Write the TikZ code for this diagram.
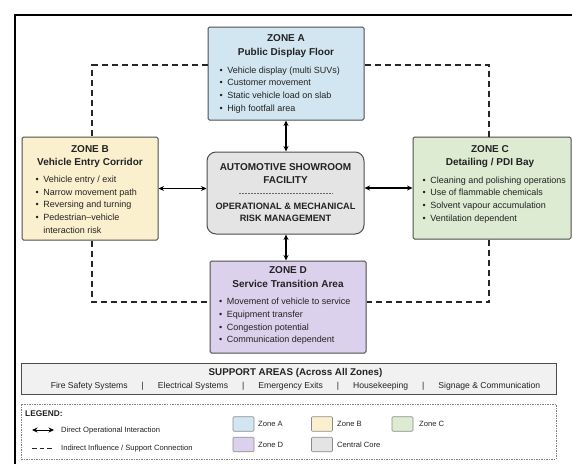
\documentclass[tikz,border=0pt]{standalone}
\usepackage{fontspec}
\setmainfont{Liberation Sans}
\usetikzlibrary{arrows.meta}
\definecolor{zA}{HTML}{D2E6F1}
\definecolor{zB}{HTML}{FBF0CE}
\definecolor{zC}{HTML}{DDEBD2}
\definecolor{zD}{HTML}{DCD1EC}
\definecolor{zCore}{HTML}{E4E4E4}
\definecolor{supp}{HTML}{F1F1F1}
\definecolor{bord}{HTML}{4D4D4D}
\definecolor{ink}{HTML}{222222}
\newcommand{\zbul}{\textbullet\hspace{4.5pt}}
\newcommand{\zind}{\hphantom{\textbullet\hspace{4.5pt}}}
\tikzset{
  zonebox/.style={draw=bord, line width=1pt, rounded corners=1.5pt, inner sep=0pt},
  ttl/.style={font=\fontsize{10}{13.7}\selectfont\bfseries, text=ink, align=center, inner sep=0pt, anchor=base},
  blist/.style={font=\fontsize{9}{12.7}\selectfont, text=ink, align=left, inner sep=0pt, anchor=base west},
  link/.style={{Stealth[length=5.5pt,width=5pt]}-{Stealth[length=5.5pt,width=5pt]}, line width=1.1pt, draw=black},
  dashline/.style={dash pattern=on 6pt off 4pt, line width=1.2pt, draw=black!85},
  swatch/.style={draw=black!45, line width=0.6pt, rounded corners=1pt, minimum width=21pt, minimum height=14.5pt, inner sep=0pt},
  legtxt/.style={font=\fontsize{7.6}{9}\selectfont, text=ink, inner sep=0pt, anchor=base west},
}
\begin{document}
\begin{tikzpicture}[x=1pt,y=-1pt]
\useasboundingbox (0,0) rectangle (572,464);
\fill[white] (0,0) rectangle (572,464);
% outer frame (partially visible)
\draw[line width=2pt, black] (15,464) -- (15,15) -- (572,15);

% boxes
\node[zonebox, fill=zA, minimum width=156pt, minimum height=93pt] (A) at (286,73.5) {};
\node[zonebox, fill=zB, minimum width=136pt, minimum height=103pt] (B) at (90,188.5) {};
\node[zonebox, fill=zC, minimum width=158pt, minimum height=102pt] (C) at (492,188) {};
\node[zonebox, fill=zD, minimum width=156pt, minimum height=92pt] (D) at (288,307) {};
\node[draw=bord, line width=1pt, rounded corners=9pt, fill=zCore, minimum width=157pt, minimum height=82pt, inner sep=0pt] (core) at (285.5,193) {};

% zone texts (anchor = baseline of the last line)
\node[ttl] (Atitle) at (286,55.3) {ZONE A\\Public Display Floor};
\node[blist] (Alist) at (219.4,111.1) {\zbul Vehicle display (multi SUVs)\\\zbul Customer movement\\\zbul Static vehicle load on slab\\\zbul High footfall area};

\node[ttl] (Btitle) at (90,165.9) {ZONE B\\Vehicle Entry Corridor};
\node[blist] (Blist) at (35.5,233.2) {\zbul Vehicle entry / exit\\\zbul Narrow movement path\\\zbul Reversing and turning\\\zbul Pedestrian–vehicle\\\zind interaction risk};

\node[ttl] (Ctitle) at (490,165.9) {ZONE C\\Detailing / PDI Bay};
\node[blist] (Clist) at (422.5,221.1) {\zbul Cleaning and polishing operations\\\zbul Use of flammable chemicals\\\zbul Solvent vapour accumulation\\\zbul Ventilation dependent};

\node[ttl] (Dtitle) at (288,287.5) {ZONE D\\Service Transition Area};
\node[blist] (Dlist) at (219,342.9) {\zbul Movement of vehicle to service\\\zbul Equipment transfer\\\zbul Congestion potential\\\zbul Communication dependent};

% core texts
\node[ttl, font=\fontsize{10}{13.3}\selectfont\bfseries] (coreT1) at (285.5,183.6) {AUTOMOTIVE SHOWROOM\\FACILITY};
\draw[black!60, dash pattern=on 2pt off 1pt, line width=0.5pt] (239,193) -- (333,193);
\node[ttl, font=\fontsize{9.2}{12.6}\selectfont\bfseries] (coreT2) at (285.5,221.6) {OPERATIONAL \& MECHANICAL\\RISK MANAGEMENT};

% direct interactions
\draw[link] (A.south) -- (core.north -| A.south);
\draw[link] (core.south -| A.south) -- (D.north -| A.south);
\draw[link] (B.east) -- (core.west |- B.east);
\draw[link] (core.east |- C.west) -- (C.west);

% indirect connections
\coordinate (tl) at (92,65);
\coordinate (tr) at (489,65);
\coordinate (bl) at (92,302);
\coordinate (br) at (489,302);
\draw[dashline] (A.west |- tl) -- (tl) -- (tl |- B.north);
\draw[dashline] (A.east |- tr) -- (tr) -- (tr |- C.north);
\draw[dashline] (bl |- B.south) -- (bl) -- (D.west |- bl);
\draw[dashline] (br |- C.south) -- (br) -- (D.east |- br);

% support areas
\node[draw=bord, line width=1pt, fill=supp, minimum width=535pt, minimum height=31pt, inner sep=0pt] (support) at (288.5,378.5) {};
\node[font=\fontsize{9.8}{11}\selectfont\bfseries, text=ink, inner sep=0pt, anchor=base] (suppT) at (295.5,375.5) {SUPPORT AREAS (Across All Zones)};
\node[font=\fontsize{8.6}{10}\selectfont, text=ink, inner sep=0pt, anchor=base] (suppI) at (295.5,388.5) {Fire Safety Systems\hspace{14pt}|\hspace{14pt}Electrical Systems\hspace{14pt}|\hspace{14pt}Emergency Exits\hspace{14pt}|\hspace{14pt}Housekeeping\hspace{14pt}|\hspace{14pt}Signage \& Communication};

% legend
\node[draw=black!50, dash pattern=on 1.5pt off 1pt, line width=0.6pt, minimum width=535pt, minimum height=55pt, inner sep=0pt] (legend) at (288.5,431.5) {};
\node[font=\fontsize{8.3}{10}\selectfont\bfseries, text=ink, inner sep=0pt, anchor=base west] (legT) at (25,416) {LEGEND:};
\coordinate (la1) at (32,430);
\coordinate (la2) at (54,430);
\draw[link, line width=0.9pt] (la1) -- (la2);
\node[legtxt] (legDirect) at (61,432.7) {Direct Operational Interaction};
\coordinate (lb1) at (32,448);
\coordinate (lb2) at (54,448);
\draw[dashline, dash pattern=on 4.5pt off 3pt, line width=1pt] (lb1) -- (lb2);
\node[legtxt] (legIndirect) at (61,450.7) {Indirect Influence / Support Connection};

\node[swatch, fill=zA] (swA) at (243.5,424) {};
\node[legtxt] (labA) at (258,426.8) {Zone A};
\node[swatch, fill=zB] (swB) at (322,424) {};
\node[legtxt] (labB) at (337,426.8) {Zone B};
\node[swatch, fill=zC] (swC) at (402.5,424) {};
\node[legtxt] (labC) at (419,426.8) {Zone C};
\node[swatch, fill=zD] (swD) at (243.5,444.5) {};
\node[legtxt] (labD) at (258,447.5) {Zone D};
\node[swatch, fill=zCore] (swCore) at (322,444.5) {};
\node[legtxt] (labCore) at (337,447.5) {Central Core};
\end{tikzpicture}
\end{document}
